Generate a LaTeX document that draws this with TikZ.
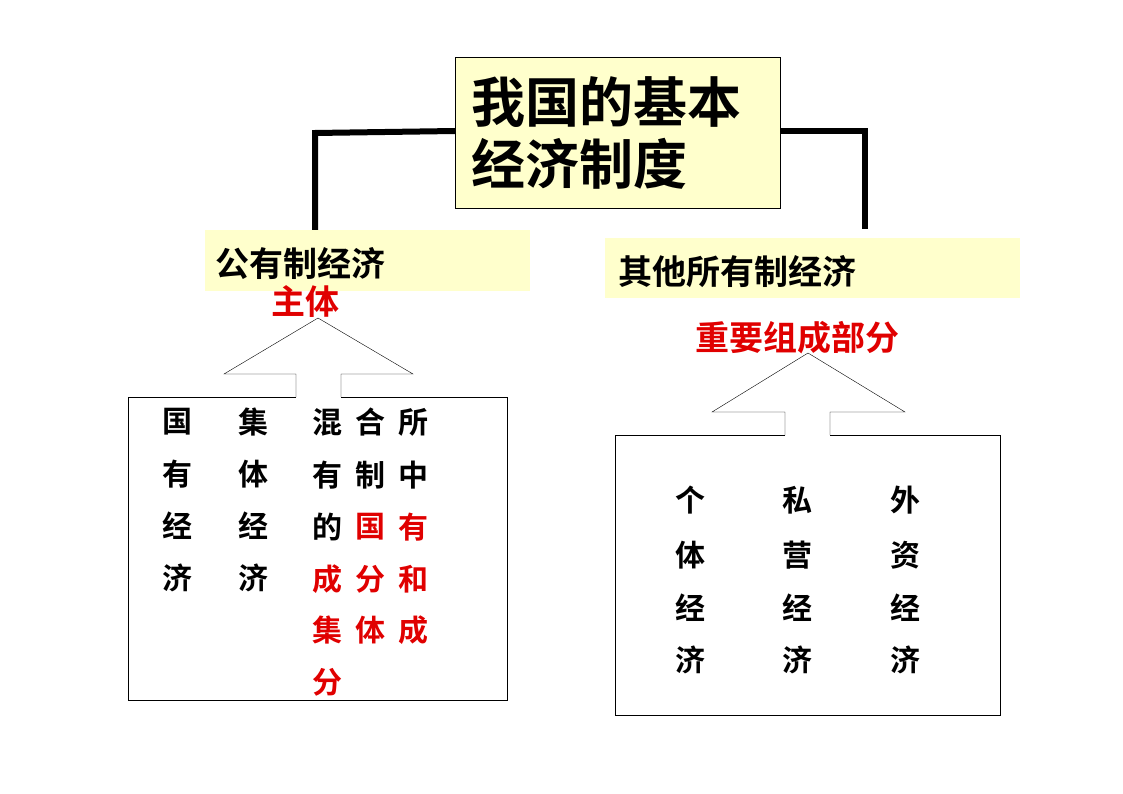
\documentclass[tikz,border=0pt]{standalone}
\usepackage{fontspec}
\setmainfont{Noto Sans CJK SC}[BoldFont={* Bold}]
\definecolor{paleyellow}{HTML}{FFFFCC}
\definecolor{redtext}{HTML}{E00000}
\tikzset{
  titlebox/.style={draw, fill=paleyellow, minimum width=325pt, minimum height=151pt, inner sep=0pt},
  labelbox/.style={fill=paleyellow, inner sep=0pt},
  bigtext/.style={font=\fontsize{54}{62}\selectfont\bfseries, align=left},
  midtext/.style={font=\fontsize{34}{40}\selectfont\bfseries},
  cell/.style={font=\fontsize{30}{34}\selectfont\bfseries},
  hot/.style={text=redtext},
}
\begin{document}
\begin{tikzpicture}[x=1pt,y=-1pt]
    \useasboundingbox (0,0) rectangle (1123,794);

    % title and the thick connectors
    \node[titlebox] (title) at (617.5,132.5) {};
    \node[bigtext, anchor=west] at (468,132.5) {我国的基本\\经济制度};
    \node[labelbox, minimum width=325pt, minimum height=61pt] (pub) at (367.5,260.5) {};
    \node[labelbox, minimum width=415pt, minimum height=60pt] (oth) at (812.5,268) {};
    \draw[line width=6pt] (455,131) -- (315,133) -- (315,230);
    \draw[line width=6pt] (780,131) -- (865,131) -- (865,229);

    \node[midtext, anchor=west] (publbl) at (212,264) {公有制经济};
    \node[midtext, anchor=west] (othlbl) at (615,272) {其他所有制经济};
    \node[midtext, hot] (zt) at (305,302) {主体};
    \node[midtext, hot] (zy) at (797,338) {重要组成部分};

    % left: block arrow opening into the box
    \draw (296,397) -- (296,374) -- (224,374) -- (318,318) -- (413,374) -- (341,374) -- (341,397);
    \draw (296,397) -- (128,397) -- (128,700) -- (507,700) -- (507,397) -- (341,397);

    \foreach \t [count=\i] in {国,有,经,济}
      \node[cell] at (177,370+52*\i) {\t};
    \foreach \t [count=\i] in {集,体,经,济}
      \node[cell] at (253,370+52*\i) {\t};
    \node[cell] at (327,422) {混};
    \node[cell] at (370,422) {合};
    \node[cell] at (413,422) {所};
    \node[cell] at (327,475) {有};
    \node[cell] at (370,475) {制};
    \node[cell] at (413,475) {中};
    \node[cell] at (327,527) {的};
    \node[cell, hot] at (370,527) {国};
    \node[cell, hot] at (413,527) {有};
    \foreach \a/\b/\c/\y in {成/分/和/579, 集/体/成/630} {
      \node[cell, hot] at (327,\y) {\a};
      \node[cell, hot] at (370,\y) {\b};
      \node[cell, hot] at (413,\y) {\c};
    }
    \node[cell, hot] at (327,682) {分};

    % right: block arrow opening into the box
    \draw (785,435) -- (785,412) -- (712,412) -- (808,353) -- (905,412) -- (830,412) -- (830,435);
    \draw (785,435) -- (615,435) -- (615,715) -- (1000,715) -- (1000,435) -- (830,435);

    \foreach \x/\a/\b in {690/个/体, 797/私/营, 905/外/资} {
      \node[cell] at (\x,500) {\a};
      \node[cell] at (\x,555) {\b};
      \node[cell] at (\x,608) {经};
      \node[cell] at (\x,660) {济};
    }
\end{tikzpicture}
\end{document}
